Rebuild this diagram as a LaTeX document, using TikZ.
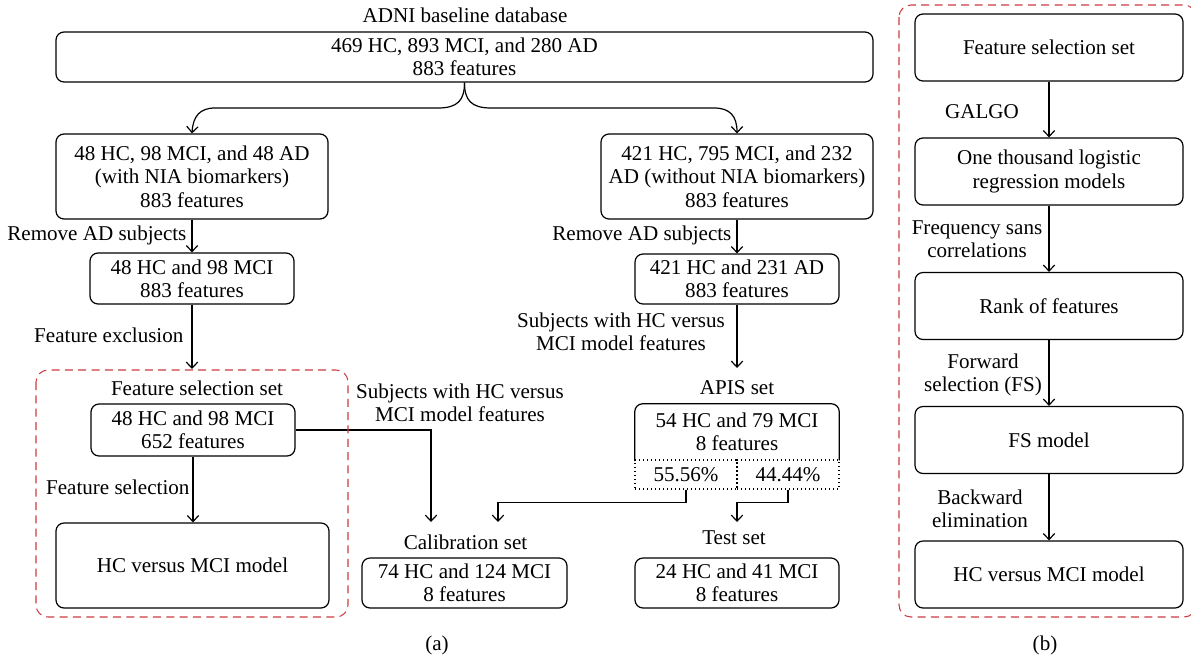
\documentclass[tikz,border=0pt]{standalone}
\usepackage{fontspec}
\setmainfont{Liberation Serif}
\usetikzlibrary{arrows.meta}
\definecolor{framered}{RGB}{205,60,65}
\tikzset{
 base/.style={font=\fontsize{15.8}{17.5}\selectfont, align=center, inner sep=1pt},
 box/.style={base, draw, rounded corners=6pt, line width=0.9pt},
 lab/.style={base},
 arr/.style={line width=0.9pt, -{Straight Barb[length=4.5pt,width=8.5pt]}},
 conn/.style={line width=0.9pt},
 frame/.style={draw=framered, line width=0.8pt, dash pattern=on 6pt off 4pt, rounded corners=9pt},
 split/.style={base, draw, dash pattern=on 0.8pt off 2.2pt, line width=0.8pt, inner sep=0pt}
}
\begin{document}
\begin{tikzpicture}[x=0.75pt,y=-0.75pt]
\useasboundingbox (0,0) rectangle (1191,661);
% ---------- part (a) ----------
\node[lab] (adni) at (465,15) {ADNI baseline database};
\node[box, minimum width=612.75pt, minimum height=37.5pt] (top) at (464.5,57) {469 HC, 893 MCI, and 280 AD\\883 features};
\node[box, minimum width=204pt, minimum height=63.75pt] (wnia) at (192,176.5) {48 HC, 98 MCI, and 48 AD\\(with NIA biomarkers)\\883 features};
\node[box, minimum width=204pt, minimum height=63.75pt] (wonia) at (737,176.5) {421 HC, 795 MCI, and 232\\AD (without NIA biomarkers)\\883 features};
\node[box, minimum width=153pt, minimum height=38.25pt] (hcmci) at (192,278.5) {48 HC and 98 MCI\\883 features};
\node[box, minimum width=153pt, minimum height=37.5pt] (hcad) at (737,279) {421 HC and 231 AD\\883 features};
\node[lab, anchor=east] (rm1) at (188,235) {Remove AD subjects};
\node[lab, anchor=east] (rm2) at (733,235) {Remove AD subjects};
\node[lab, anchor=east] (fex) at (185,335) {Feature exclusion};
\node[lab] (fsslab) at (197,388) {Feature selection set};
\node[box, minimum width=153pt, minimum height=39pt] (fss) at (193,430) {48 HC and 98 MCI\\652 features};
\node[lab, anchor=east] (fsel) at (191,487) {Feature selection};
\node[box, minimum width=204.75pt, minimum height=63.75pt] (model) at (192.5,565.5) {HC versus MCI model};
\node[lab] (subj1) at (460,403) {Subjects with HC versus\\MCI model features};
\node[lab] (subj2) at (621,331.5) {Subjects with HC versus\\MCI model features};
\node[lab] (apislab) at (737,388) {APIS set};
\node[base, minimum width=153pt, minimum height=42pt] (apis) at (737,432) {54 HC and 79 MCI\\8 features};
\draw[conn, rounded corners=6pt] (apis.south west) -- (apis.north west) -- (apis.north east) -- (apis.south east);
\node[split, minimum width=76.5pt, minimum height=21.75pt] (p1) at (686,474.5) {55.56\%};
\node[split, minimum width=76.5pt, minimum height=21.75pt] (p2) at (788,474.5) {44.44\%};
\node[lab] (callab) at (465.5,542) {Calibration set};
\node[box, minimum width=153.75pt, minimum height=37.5pt] (cal) at (464.5,583) {74 HC and 124 MCI\\8 features};
\node[lab] (testlab) at (734,538) {Test set};
\node[box, minimum width=153pt, minimum height=37.5pt] (test) at (737,583) {24 HC and 41 MCI\\8 features};
\node[lab] (la) at (437,645) {(a)};
% connectors (a)
\draw[arr] (top.south) .. controls (464.5,100) and (458,108) .. (438,108) -- (215,108) .. controls (200,108) and (193,116) .. (wnia.north);
\draw[arr] (top.south) .. controls (464.5,100) and (471,108) .. (491,108) -- (714,108) .. controls (730,108) and (737,116) .. (wonia.north);
\draw[arr] (wnia.south) -- (hcmci.north);
\draw[arr] (wonia.south) -- (hcad.north);
\coordinate (fssin) at (192,369);
\draw[arr] (hcmci.south) -- (fssin);
\draw[arr] (fss.south) -- (fss.south |- model.north);
\coordinate (apisin) at (737,368);
\draw[arr] (hcad.south) -- (apisin);
\coordinate (calin1) at (431,522);
\draw[arr] (fss.east) -| (calin1);
\coordinate (calin2) at (498,522);
\draw[arr] (p1.south) -- ++(0,13) -| (calin2);
\coordinate (testin) at (737,522);
\draw[arr] (p2.south) -- ++(0,13) -| (testin);
\draw[frame] (36,370) rectangle (348,617);
% ---------- part (b) ----------
\node[box, minimum width=201pt, minimum height=50.25pt] (r1) at (1049,47.5) {Feature selection set};
\node[box, minimum width=201pt, minimum height=50.25pt] (r2) at (1049,171.5) {One thousand logistic\\regression models};
\node[box, minimum width=201pt, minimum height=50.25pt] (r3) at (1049,306) {Rank of features};
\node[box, minimum width=201pt, minimum height=50.25pt] (r4) at (1049,440) {FS model};
\node[box, minimum width=201pt, minimum height=50.25pt] (r5) at (1049,574.5) {HC versus MCI model};
\node[lab] (galgo) at (982,112) {GALGO};
\node[lab] (freq) at (977,239) {Frequency sans\\correlations};
\node[lab] (fwd) at (983,375) {Forward\\selection (FS)};
\node[lab] (bwd) at (980,509) {Backward\\elimination};
\node[lab] (lb) at (1045,645) {(b)};
\draw[arr] (r1.south) -- (r2.north);
\draw[arr] (r2.south) -- (r3.north);
\draw[arr] (r3.south) -- (r4.north);
\draw[arr] (r4.south) -- (r5.north);
\begin{scope}
\clip (0,0) rectangle (1191,661);
\draw[frame] (899,5) rectangle (1196,617);
\end{scope}
\end{tikzpicture}
\end{document}
